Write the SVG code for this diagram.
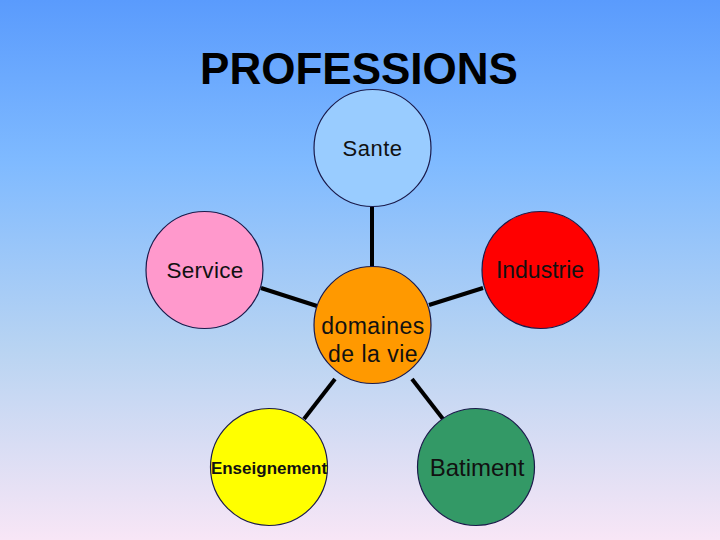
<svg xmlns="http://www.w3.org/2000/svg" width="720" height="540" viewBox="0 0 720 540">
  <defs>
    <linearGradient id="bg" x1="0" y1="0" x2="0" y2="1">
      <stop offset="0" stop-color="#5a9bfd"/>
      <stop offset="0.3" stop-color="#7fbaff"/>
      <stop offset="0.65" stop-color="#b9d4f2"/>
      <stop offset="1" stop-color="#f8e6f6"/>
    </linearGradient>
    <style>
      .node { stroke: #1a1a4a; stroke-width: 1.2; }
      .lbl { font-family: "Liberation Sans", Arial, sans-serif; font-size: 22px; fill: #111; text-anchor: middle; }
      .edge { stroke: #000; stroke-width: 4; stroke-linecap: butt; }
    </style>
  </defs>
  <rect x="0" y="0" width="720" height="540" fill="url(#bg)"/>
  <text x="359" y="84" font-family="Liberation Sans, Arial, sans-serif" font-size="44" font-weight="bold" fill="#000" text-anchor="middle">PROFESSIONS</text>

  <g id="connectors">
    <line class="edge" x1="372" y1="207" x2="372" y2="267"/>
    <line class="edge" x1="261" y1="288" x2="317" y2="306"/>
    <line class="edge" x1="483" y1="288" x2="429" y2="305"/>
    <line class="edge" x1="304" y1="419" x2="335" y2="379"/>
    <line class="edge" x1="443" y1="419" x2="412" y2="379"/>
  </g>

  <g id="sante">
    <circle class="node" cx="372.5" cy="148" r="58.5" fill="#99ccff"/>
    <text class="lbl" x="372.5" y="156" style="font-size:22px;letter-spacing:0.5px">Sante</text>
  </g>
  <g id="service">
    <circle class="node" cx="204.5" cy="270" r="58.5" fill="#ff99cc"/>
    <text class="lbl" x="205" y="278" style="font-size:22.5px;letter-spacing:0.3px">Service</text>
  </g>
  <g id="industrie">
    <circle class="node" cx="540.5" cy="270" r="58.5" fill="#ff0000"/>
    <text class="lbl" x="540" y="278" style="font-size:23px">Industrie</text>
  </g>
  <g id="domaines">
    <circle class="node" cx="372.5" cy="325" r="58.5" fill="#ff9900"/>
    <text class="lbl" x="373" y="334" style="font-size:23px;letter-spacing:0.5px">domaines</text>
    <text class="lbl" x="373" y="362" style="font-size:23px;letter-spacing:0.5px">de la vie</text>
  </g>
  <g id="enseignement">
    <circle class="node" cx="269" cy="467" r="58.5" fill="#ffff00"/>
    <text class="lbl" x="269" y="474" style="font-size:17px;font-weight:bold">Enseignement</text>
  </g>
  <g id="batiment">
    <circle class="node" cx="476" cy="467" r="58.5" fill="#339966"/>
    <text class="lbl" x="477" y="476" style="font-size:24px">Batiment</text>
  </g>
</svg>
